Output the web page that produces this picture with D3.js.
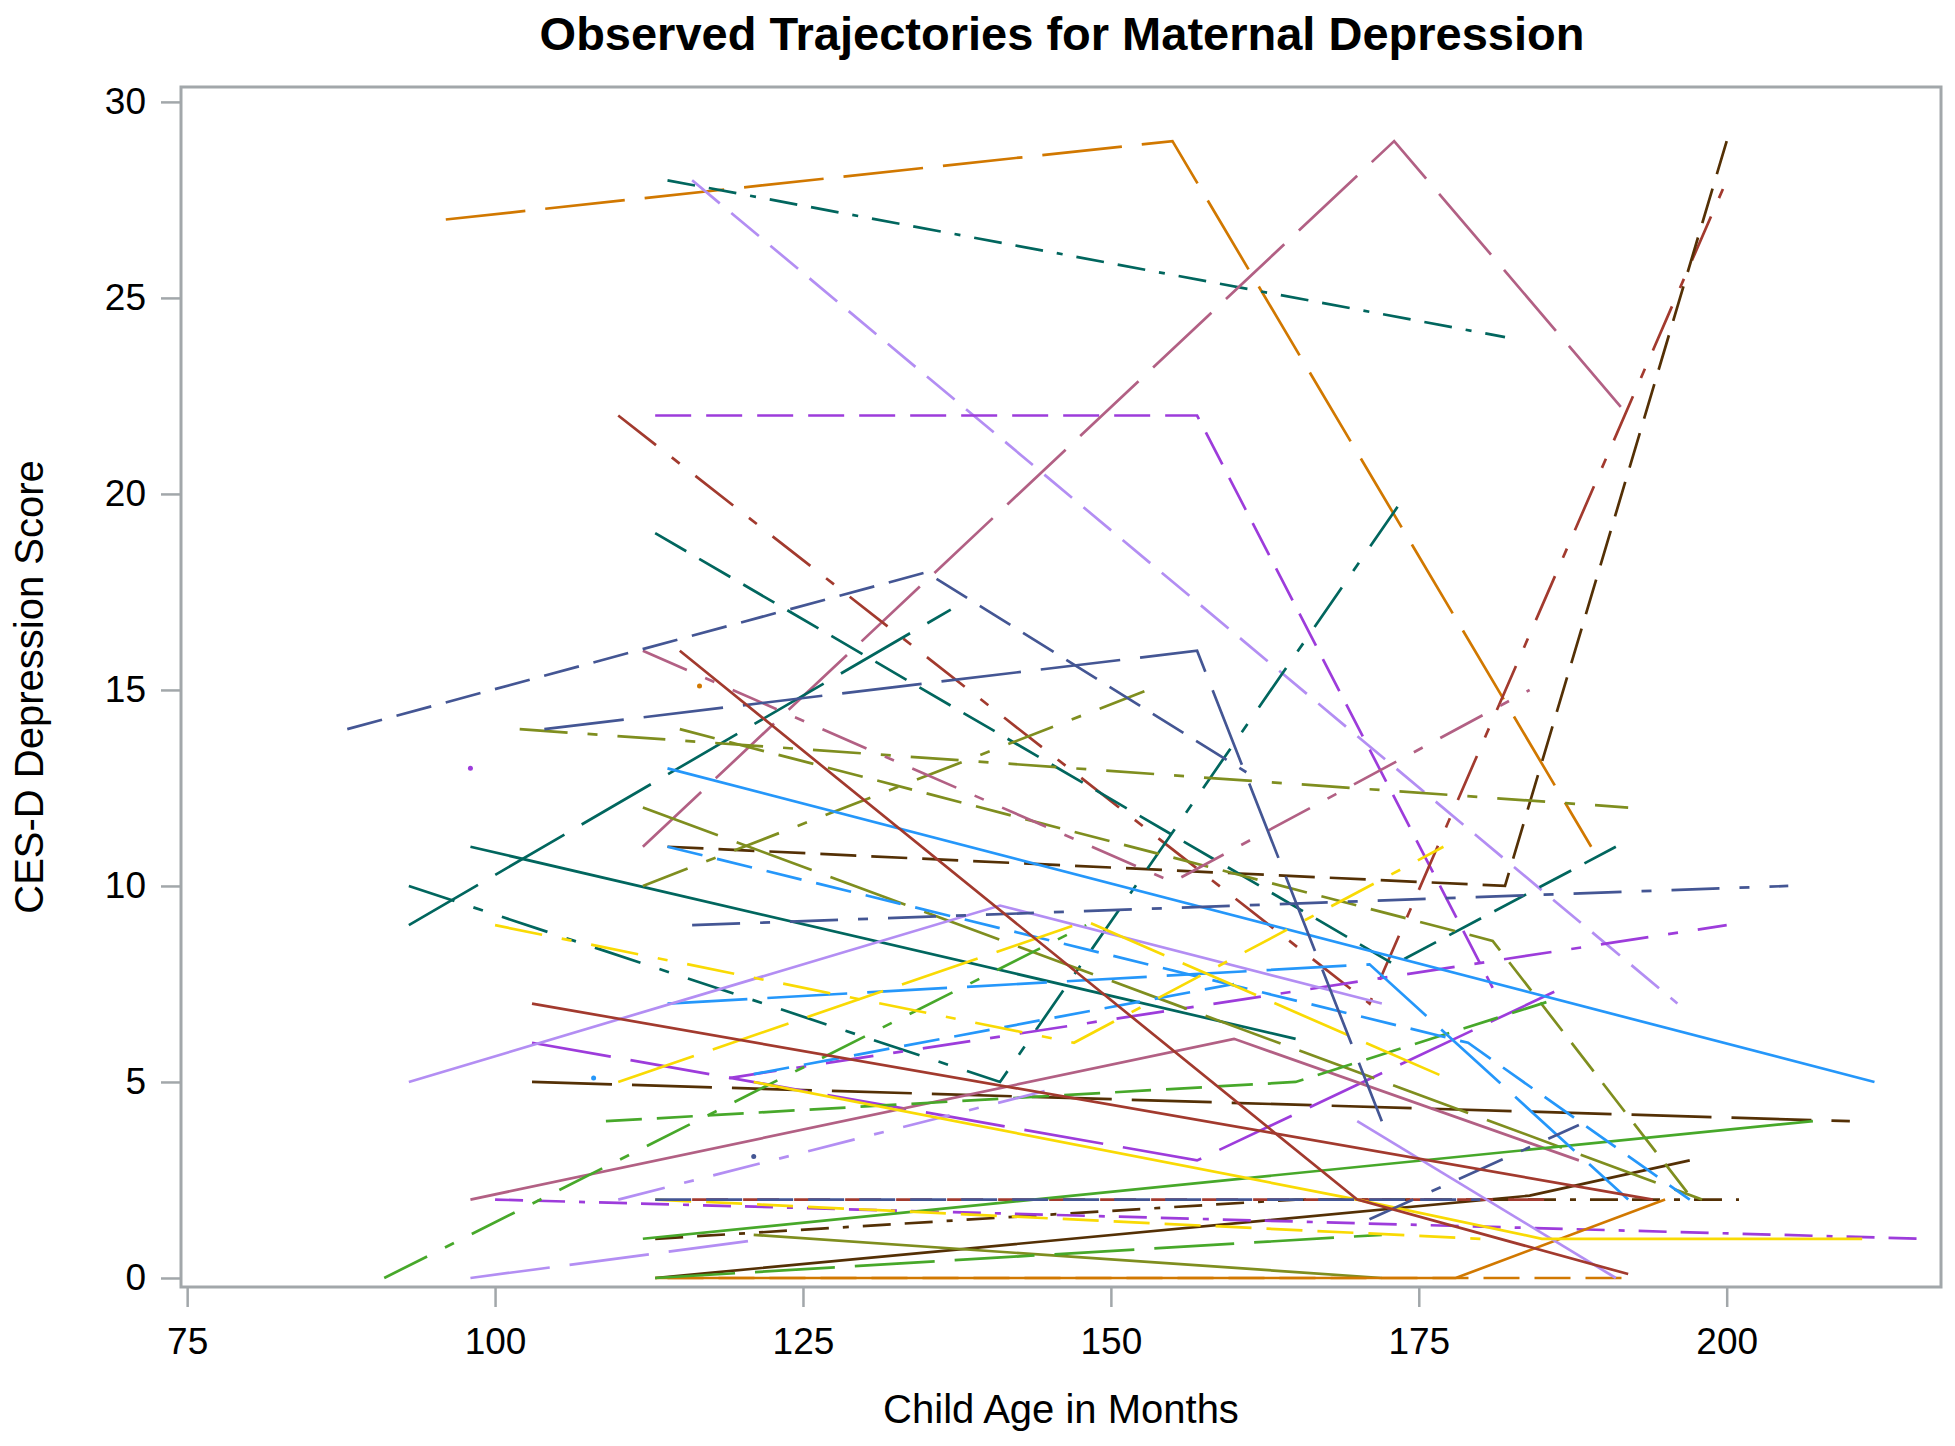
<!DOCTYPE html>
<html><head><meta charset="utf-8">
<script src="https://cdn.jsdelivr.net/npm/d3@7"></script>
<style>body{margin:0;background:#fff;} svg{display:block;}</style>
</head><body>
<svg id="chart" width="1955" height="1446"></svg>
<script>
// ---------- data ----------
const xTicks = [75, 100, 125, 150, 175, 200];
const yTicks = [0, 5, 10, 15, 20, 25, 30];

// child age (months) at each observation, one list per mother
const subjectAges = [
  [96,155,189],[114,182],[116,196],[112,173,192],[113,157,181],[110,171,200],
  [114,182,200],[113,173,191],[93,137],[98,165],[93,141,174],[103,210],
  [113,184,197],[113,165,201],[100,216],[103,157,186],[119,200],[102,192],
  [115,181,197],[112,198],[112,153],[121,172],[112,155,184],[98,160,188],
  [116,186],[113,178,195],[114,192],[112,207],[109,165,186],[91,148],
  [113,172],[114,212],[114,179,197],[114,171,192],[121,160],[93,141,172],
  [98,122],[110,145],[170,191],[100,147,177],[110,148,178],[121,170,185,211],
  [113,180],[88,135,161],[104,157,172],[116,205],[171,188],[113,180],
  [115,170,192],[103,194],[98],[116.6],[108],[121]
];
// CES-D depression score at each observation
const subjectScores = [
  [27,29,11],[28,24],[28,7],[11,29,22],[22,22,7.4],[22,7,28],
  [11,10,29],[19,8,11],[9,17.05],[11,6.1],[10,5,20],[5,4],
  [0,2.1,3],[1,2,2],[2,1],[6,3,7.3],[5.1,9],[14,12],
  [14,8.6,2.1],[12,2],[10,15],[1.1,0],[16,10.1,15],[2,6.1,3],
  [2,2],[0,0,2],[0,0],[1,4],[4,5,7.1],[0,9],
  [0,1.1],[13,5],[11,6,2],[7,8,2],[5.2,7.5],[5,9.5,7],
  [0,1],[2,4.8],[4,0],[9,6,11],[5,9.1,5],[5,2,1,1],
  [2,1],[14,18,12.9],[14,16,4],[9,10],[1.5,3.9],[2,2],
  [16,2,0.1],[7,2],[13],[15.1],[5.1],[3.1]
];

// ---------- styles (kept apart from the data) ----------
const palette = {
  bluegray:"#445694", red:"#A23A2E", teal:"#01665E", brown:"#543005",
  purple:"#9D3CDB", olive:"#7F8E1F", blue:"#2597FA", pink:"#B26084",
  orange:"#D17800", green:"#47A82A", lavender:"#B38EF3", yellow:"#F9DA04"
};
const dashes = {
  solid:null, dash:"36,15", longdash:"80,20",
  dashdot:"48,20,10,20", dashdashdot:"28,14,28,14,6,14"
};
const subjectColor = [
  "orange","teal","lavender","pink","purple","red",
  "brown","teal","teal","teal","teal","brown",
  "brown","brown","purple","purple","purple","olive",
  "olive","olive","olive","olive","pink","pink",
  "red","orange","orange","green","green","green",
  "green","blue","blue","blue","blue","lavender",
  "lavender","lavender","lavender","yellow","yellow","yellow",
  "yellow","bluegray","bluegray","bluegray","bluegray","bluegray",
  "red","red","purple","orange","blue","bluegray"
];
const subjectLine = [
  "longdash","dashdashdot","dash","longdash","dash","dashdot",
  "dash","dash","longdash","solid","dashdot","longdash",
  "solid","dashdashdot","dashdashdot","longdash","dashdot","dashdot",
  "dash","longdash","dashdot","solid","dashdot","solid",
  "dash","solid","dash","solid","dash","dashdot",
  "longdash","solid","dash","longdash","dash","solid",
  "longdash","dashdot","solid","dashdot","longdash","solid",
  "dash","dash","longdash","dashdot","dashdot","dash",
  "solid","solid","solid","solid","solid","solid"
];

// ---------- layout ----------
const W = 1955, H = 1446;
const frame = {left:181, top:87, right:1941, bottom:1287};
const axisGray = "#a2a7aa";
const fontFam = "'Liberation Sans', Arial, 'DejaVu Sans', sans-serif";

const x = d3.scaleLinear().domain([74.5, 217.4]).range([frame.left, frame.right]);
const y = d3.scaleLinear().domain([-0.23, 30.38]).range([frame.bottom, frame.top]);

const svg = d3.select("#chart");
svg.append("rect").attr("width", W).attr("height", H).attr("fill", "#fff");

svg.append("defs").append("clipPath").attr("id", "plotclip")
  .append("rect").attr("x", frame.left).attr("y", frame.top)
  .attr("width", frame.right - frame.left).attr("height", frame.bottom - frame.top);

// title
svg.append("text").attr("x", 1062).attr("y", 50).attr("text-anchor", "middle")
  .attr("font-family", fontFam).attr("font-weight", "bold").attr("font-size", 47)
  .attr("fill", "#000").text("Observed Trajectories for Maternal Depression");

// series
const series = subjectAges.map((ages, i) => ({
  pts: ages.map((a, j) => ({age: a, score: subjectScores[i][j]})),
  color: palette[subjectColor[i]],
  dash: dashes[subjectLine[i]]
}));

const line = d3.line().x(d => x(d.age)).y(d => y(d.score));
const g = svg.append("g").attr("clip-path", "url(#plotclip)");
series.forEach(s => {
  if (s.pts.length > 1) {
    g.append("path").attr("d", line(s.pts)).attr("fill", "none")
      .attr("stroke", s.color).attr("stroke-width", 2.7)
      .attr("stroke-linejoin", "miter")
      .attr("stroke-dasharray", s.dash);
  } else {
    g.append("circle").attr("cx", x(s.pts[0].age)).attr("cy", y(s.pts[0].score))
      .attr("r", 2.5).attr("fill", s.color);
  }
});

// frame
svg.append("rect").attr("x", frame.left).attr("y", frame.top)
  .attr("width", frame.right - frame.left).attr("height", frame.bottom - frame.top)
  .attr("fill", "none").attr("stroke", axisGray).attr("stroke-width", 3);

// axes
const xAxis = svg.append("g").attr("transform", `translate(0,${frame.bottom})`)
  .call(d3.axisBottom(x).tickValues(xTicks).tickSize(20).tickPadding(21));
const yAxis = svg.append("g").attr("transform", `translate(${frame.left},0)`)
  .call(d3.axisLeft(y).tickValues(yTicks).tickSize(20).tickPadding(15));
[xAxis, yAxis].forEach(ax => {
  ax.select(".domain").remove();
  ax.selectAll(".tick line").attr("stroke", axisGray).attr("stroke-width", 2.5);
  ax.selectAll(".tick text").attr("font-family", fontFam).attr("font-size", 37).attr("fill", "#000");
});

// axis labels
svg.append("text").attr("x", 1061).attr("y", 1423).attr("text-anchor", "middle")
  .attr("font-family", fontFam).attr("font-size", 40).attr("fill", "#000")
  .text("Child Age in Months");
svg.append("text").attr("transform", "translate(43,687) rotate(-90)")
  .attr("text-anchor", "middle").attr("font-family", fontFam).attr("font-size", 40)
  .attr("fill", "#000").text("CES-D Depression Score");
</script>
</body></html>
